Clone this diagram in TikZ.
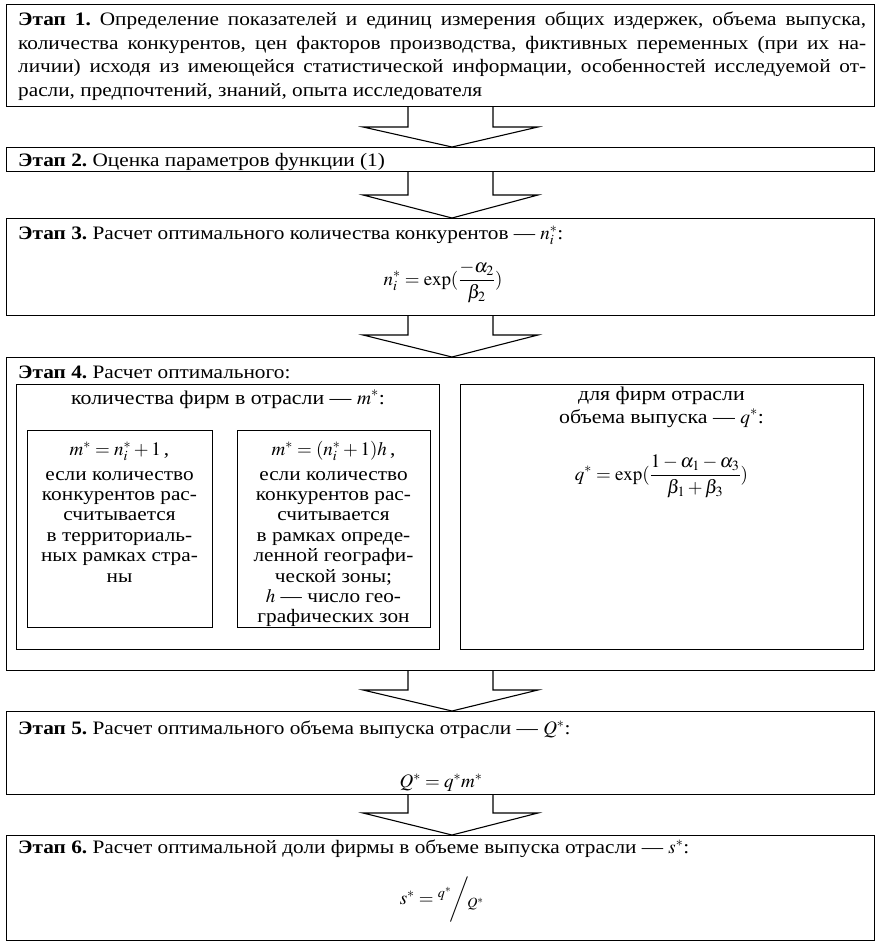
\documentclass[tikz,border=0pt]{standalone}
\usepackage{mathptmx}
\usepackage{fontspec}
\setmainfont{Liberation Serif}[FakeStretch=1.12]
\newcommand\fs{\fontsize{19}{23}\selectfont}
\newcommand\fsi{\fontsize{19}{20}\selectfont}
\newcommand\fsh{\fontsize{19.5}{20}\selectfont}
\frenchspacing
\tikzset{
  stagebox/.style={draw, line width=1.1pt, inner sep=0pt, anchor=north west},
  txt/.style={inner sep=0pt, anchor=base west, font=\fs},
  ctr/.style={inner sep=0pt, anchor=base, font=\fsi},
  hdr/.style={inner sep=0pt, anchor=base, font=\fsh},
  arrowline/.style={draw, line width=1.1pt, line join=miter},
}
\newcommand\stagearrow[3]{%
  \draw[arrowline] (stemL |- #1.south) -- (408,#3) -- (363,#3) -- (tipX |- #2.north)
     -- (538,#3) -- (493,#3) -- (stemR |- #1.south);}
\begin{document}
\begin{tikzpicture}[x=1pt,y=-1pt]
\fill[white] (0,0) rectangle (876,942);
\useasboundingbox (0,0) rectangle (876,942);
\coordinate (stemL) at (408,0);
\coordinate (stemR) at (493,0);
\coordinate (tipX) at (452,0);

% Stage 1
\node[stagebox, minimum width=868pt, minimum height=102pt] (s1) at (6,4) {};
\node[txt] (t1a) at (18,26) {\makebox[848pt][s]{\textbf{Этап 1.} Определение показателей и единиц измерения общих издержек, объема выпуска,}};
\node[txt] (t1b) at (18,49.3) {\makebox[848pt][s]{количества конкурентов, цен факторов производства, фиктивных переменных (при их на-}};
\node[txt] (t1c) at (18,72.6) {\makebox[848pt][s]{личии) исходя из имеющейся статистической информации, особенностей исследуемой от-}};
\node[txt] (t1d) at (18,96) {расли, предпочтений, знаний, опыта исследователя};

% Stage 2
\node[stagebox, minimum width=868pt, minimum height=24pt] (s2) at (6,147) {};
\node[txt] (t2) at (18,166) {\textbf{Этап 2.} Оценка параметров функции (1)};

% Stage 3
\node[stagebox, minimum width=868pt, minimum height=97pt] (s3) at (6,218) {};
\node[txt] (t3) at (18,239) {\textbf{Этап 3.} Расчет оптимального количества конкурентов — $n_i^{*}$:};
\node[inner sep=0pt, font=\fs] (f3) at (443,282) {$\displaystyle n_i^{*} = \exp(\frac{-\alpha_2}{\beta_2})$};

% Stage 4
\node[stagebox, minimum width=868pt, minimum height=313pt] (s4) at (6,357) {};
\node[txt] (t4) at (18,378) {\textbf{Этап 4.} Расчет оптимального:};
\node[stagebox, minimum width=423pt, minimum height=265pt] (s4l) at (16,384) {};
\node[hdr] (t4l) at (228,404) {количества фирм в отрасли — $m^{*}$:};
\node[stagebox, minimum width=185pt, minimum height=197pt] (s4a) at (27,430) {};
\node[stagebox, minimum width=193pt, minimum height=197pt] (s4b) at (237,430) {};
\node[ctr] (fa) at (119.5,455) {$m^{*} = n_i^{*} + 1$\,,};
\node[ctr] (fb) at (333.5,455) {$m^{*} = (n_i^{*} + 1)h$\,,};
\foreach \t [count=\i] in {если количество, конкурентов рас-, считывается, в территориаль-, ных рамках стра-, ны}
  \node[ctr] (la\i) at (119.5,459.6+20.4*\i) {\t};
\foreach \t [count=\i] in {если количество, конкурентов рас-, считывается, в рамках опреде-, ленной географи-, ческой зоны;, {$h$ — число гео-}, графических зон}
  \node[ctr] (lb\i) at (333.5,459.6+20.4*\i) {\t};
\node[stagebox, minimum width=403pt, minimum height=265pt] (s4r) at (460,384) {};
\node[hdr] (t4r1) at (661.5,400) {для фирм отрасли};
\node[hdr] (t4r2) at (661.5,423) {объема выпуска — $q^{*}$:};
\node[inner sep=0pt, font=\fs] (f4r) at (661.5,476) {$\displaystyle q^{*} = \exp(\frac{1-\alpha_1-\alpha_3}{\beta_1+\beta_3})$};

% Stage 5
\node[stagebox, minimum width=868pt, minimum height=83pt] (s5) at (6,711) {};
\node[txt] (t5) at (18,734) {\textbf{Этап 5.} Расчет оптимального объема выпуска отрасли — $Q^{*}$:};
\node[inner sep=0pt, anchor=base, font=\fs] (f5) at (441,787) {$Q^{*} = q^{*} m^{*}$};

% Stage 6
\node[stagebox, minimum width=868pt, minimum height=105pt] (s6) at (6,835) {};
\node[txt] (t6) at (18,853) {\textbf{Этап 6.} Расчет оптимальной доли фирмы в объеме выпуска отрасли — $s^{*}$:};
\node[inner sep=0pt, font=\fs] (f6) at (442,900) {$s^{*} = {}^{q^{*}}\!\bigg/\!{}_{Q^{*}}$};

% Arrows
\stagearrow{s1}{s2}{127}
\stagearrow{s2}{s3}{195}
\stagearrow{s3}{s4}{335}
\stagearrow{s4}{s5}{690}
\stagearrow{s5}{s6}{813}
\end{tikzpicture}
\end{document}
